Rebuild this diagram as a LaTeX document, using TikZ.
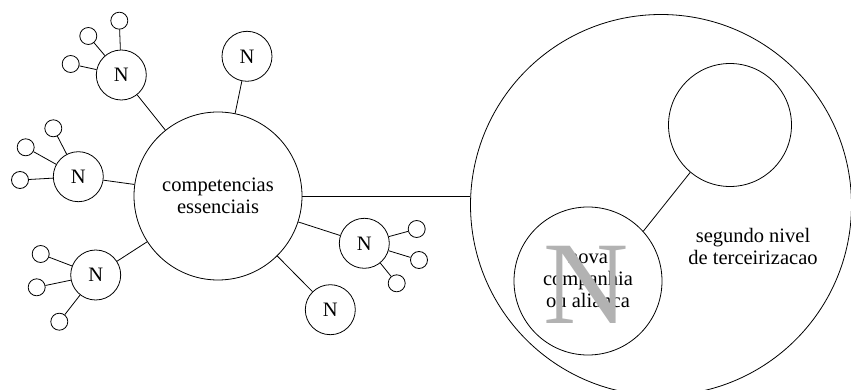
\documentclass[tikz,border=0pt]{standalone}
\usepackage{fontspec}
\setmainfont{Liberation Serif}
\begin{document}
\begin{tikzpicture}[x=1pt,y=-1pt,
  txt/.style={font=\fontsize{20.5}{22}\selectfont},
  ring/.style={circle,draw,line width=0.8pt,inner sep=0pt,txt},
  nnode/.style={ring,minimum size=50pt},
  leaf/.style={ring,minimum size=17pt},
  link/.style={line width=0.8pt}]
\useasboundingbox (0,0) rectangle (851,390);
\clip (0,0) rectangle (851,390);

% outer circle of the second level
\node[ring,minimum size=381pt] (B) at (661,205) {};

% core
\node[ring,minimum size=168pt,align=center] (C) at (218,196) {competencias\\essenciais};

% partner company inside the second level
\node[ring,minimum size=148pt,align=center] (L) at (588,281) {nova\\companhia\\ou alianca};
\node[font=\fontsize{118}{118}\selectfont,text={rgb,255:red,178;green,178;blue,178},
      anchor=base,inner sep=0pt] (bigN) at (586.5,323) {N};
\node[ring,minimum size=123pt] (T) at (730,125) {};
\node[txt,align=center] (S) at (753,246.5) {segundo nivel\\de terceirizacao};

% satellite nodes
\node[nnode] (N1) at (121.3,75) {N};
\node[nnode] (N2) at (247,56.3) {N};
\node[nnode] (N3) at (78.3,176.7) {N};
\node[nnode] (N4) at (95.7,275) {N};
\node[nnode] (N5) at (364.3,243.3) {N};
\node[nnode] (N6) at (330.3,309.7) {N};

% leaves
\node[leaf] (a1) at (119.3,20.7) {};
\node[leaf] (a2) at (88.3,36) {};
\node[leaf] (a3) at (70.7,64) {};
\node[leaf] (c1) at (53.3,128.3) {};
\node[leaf] (c2) at (25.7,147.3) {};
\node[leaf] (c3) at (20,180) {};
\node[leaf] (d1) at (40.7,254) {};
\node[leaf] (d2) at (36.7,287.3) {};
\node[leaf] (d3) at (59.3,321.7) {};
\node[leaf] (e1) at (416.7,229) {};
\node[leaf] (e2) at (419,260) {};
\node[leaf] (e3) at (396.7,283.3) {};

% connectors
\foreach \n in {N1,N2,N3,N4,N5,N6} \draw[link] (C) -- (\n);
\foreach \l in {a1,a2,a3} \draw[link] (N1) -- (\l);
\foreach \l in {c1,c2,c3} \draw[link] (N3) -- (\l);
\foreach \l in {d1,d2,d3} \draw[link] (N4) -- (\l);
\foreach \l in {e1,e2,e3} \draw[link] (N5) -- (\l);
\draw[link] (C.east) -- (C.east -| B.west);
\draw[link] (L.42) -- (T.230);
\end{tikzpicture}
\end{document}
